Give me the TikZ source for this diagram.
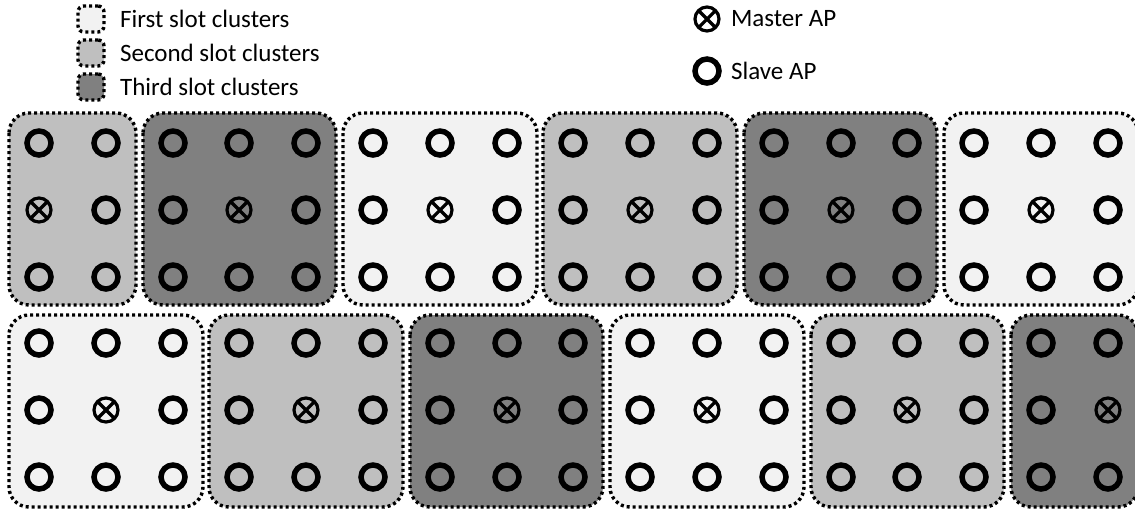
\documentclass[tikz,border=0pt]{standalone}
\usepackage{fontspec}
\setmainfont{Carlito}
\usetikzlibrary{positioning}

\definecolor{slotone}{gray}{0.95}
\definecolor{slottwo}{gray}{0.75}
\definecolor{slotthree}{gray}{0.5}

\tikzset{
  cluster/.style={draw=black, line width=1.7pt, dash pattern=on 1.5pt off 1.5pt, rounded corners=10pt},
  slave/.style={circle, draw=black, line width=2.75pt, inner sep=0pt, minimum size=12pt},
  master/.style={circle, draw=black, line width=1.6pt, inner sep=0pt, minimum size=12pt,
    path picture={\draw[line width=1.6pt]
      (path picture bounding box.north west) -- (path picture bounding box.south east)
      (path picture bounding box.south west) -- (path picture bounding box.north east);}},
  legend/.style={font=\fontsize{12.5pt}{15pt}\selectfont, inner sep=0pt},
}

\begin{document}
\begin{tikzpicture}[x=0.5pt, y=-0.5pt]
  \useasboundingbox (0,0) rectangle (1135,510);

  % upper row of clusters
  \draw[cluster, fill=slottwo] (9,113) rectangle (136,305);
  \draw[cluster, fill=slotthree] (143,113) rectangle (336,305);
  \draw[cluster, fill=slotone] (343,113) rectangle (537,305);
  \draw[cluster, fill=slottwo] (543,113) rectangle (737,305);
  \draw[cluster, fill=slotthree] (744,113) rectangle (937,305);
  \draw[cluster, fill=slotone] (944,113) rectangle (1138,305);

  % lower row of clusters
  \draw[cluster, fill=slotone] (9,315) rectangle (203,507);
  \draw[cluster, fill=slottwo] (209,315) rectangle (403,507);
  \draw[cluster, fill=slotthree] (410,315) rectangle (603,507);
  \draw[cluster, fill=slotone] (610,315) rectangle (804,507);
  \draw[cluster, fill=slottwo] (811,315) rectangle (1004,507);
  \draw[cluster, fill=slotthree] (1011,315) rectangle (1138,507);

  % slave APs
  \foreach \x in {39,106,173,239,306,373,440,507,573,640,707,774,841,907,974,1041,1108}
    \foreach \y in {143,277,343,477}
      \node[slave] (s\x-\y) at (\x,\y) {};
  \foreach \x in {106,173,306,373,507,573,707,774,907,974,1108}
    \node[slave] (s\x-210) at (\x,210) {};
  \foreach \x in {39,173,239,373,440,573,640,774,841,974,1041}
    \node[slave] (s\x-410) at (\x,410) {};

  % master APs, one per cluster
  \foreach \x in {39,239,440,640,841,1041}
    \node[master] (m\x-210) at (\x,210) {};
  \foreach \x in {106,306,507,707,907,1108}
    \node[master] (m\x-410) at (\x,410) {};

  % legend
  \node[cluster, fill=slotone, minimum size=13pt, rounded corners=3pt] (k1) at (91,19) {};
  \node[cluster, fill=slottwo, minimum size=13pt, rounded corners=3pt] (k2) at (91,53) {};
  \node[cluster, fill=slotthree, minimum size=13pt, rounded corners=3pt] (k3) at (91,87) {};
  \node[legend, right=7pt of k1] (t1) {First slot clusters};
  \node[legend, right=7pt of k2] (t2) {Second slot clusters};
  \node[legend, right=7pt of k3] (t3) {Third slot clusters};

  \node[master] (km) at (707,19) {};
  \node[legend, right=5pt of km] (tm) {Master AP};
  \node[slave] (ks) at (707,71) {};
  \node[legend, right=4.5pt of ks] (ts) {Slave AP};
\end{tikzpicture}
\end{document}
